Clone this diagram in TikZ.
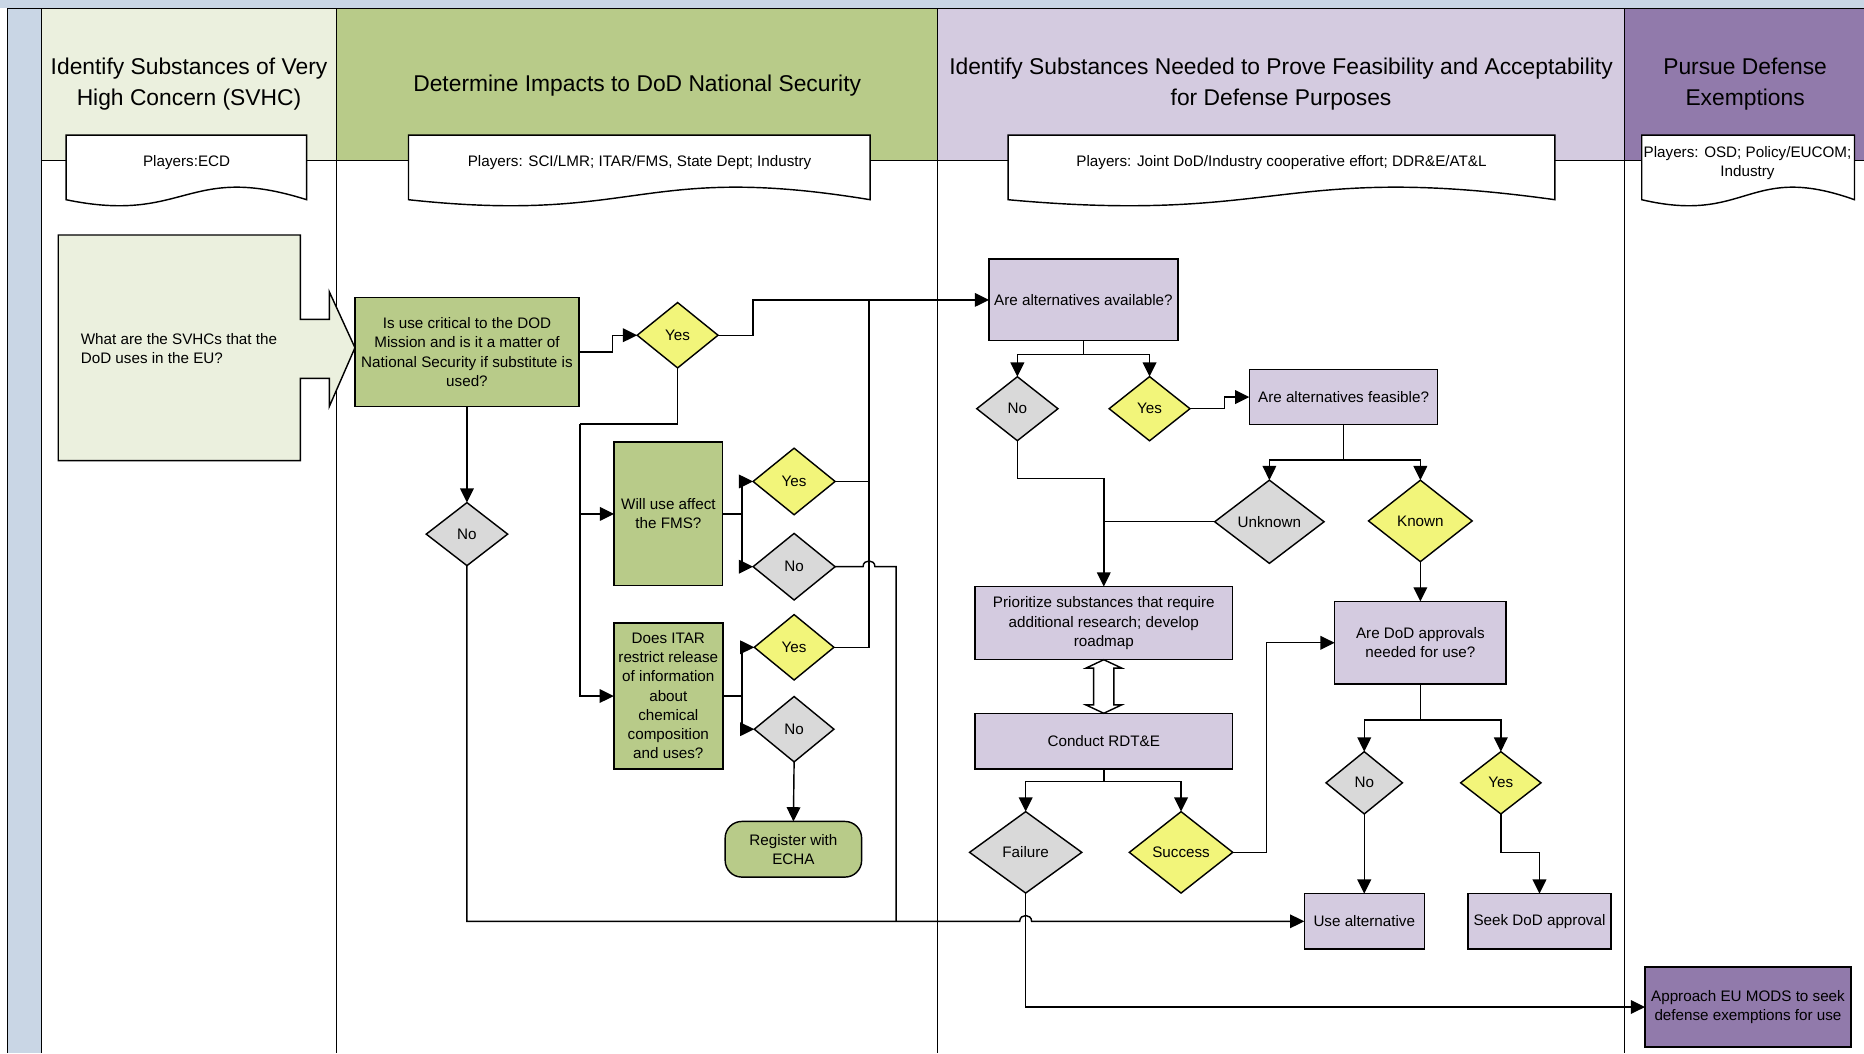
\documentclass[tikz,border=0pt]{standalone}
\usepackage{fontspec}
\setmainfont{Liberation Sans}
\usetikzlibrary{arrows.meta,shapes.geometric,calc}

\definecolor{bandblue}{RGB}{201,214,229}
\definecolor{laneA}{RGB}{235,240,222}
\definecolor{laneB}{RGB}{184,203,137}
\definecolor{laneC}{RGB}{212,203,224}
\definecolor{laneD}{RGB}{145,122,171}
\definecolor{yelfill}{RGB}{242,245,122}
\definecolor{grayfill}{RGB}{217,217,217}

% wavy-bottomed document shape for the "Players" notes
\newcommand{\docshape}[2]{%
  \pgfmathsetmacro{\docmid}{0.5*(#1+#2)}%
  \filldraw[fill=white, line width=1.2pt] (#1,113.6) -- (#2,113.6) -- (#2,168)
    .. controls (\docmid,136) and (\docmid,189) .. (#1,168) -- cycle;}

\begin{document}
\begin{tikzpicture}[x=1pt,y=-1pt,line width=1.2pt,
  every node/.style={inner sep=0pt,outer sep=0pt},
  txt/.style={font=\fontsize{12.8}{16.2}\selectfont,align=center},
  headtxt/.style={font=\fontsize{19.2}{26}\selectfont,align=center},
  box/.style={draw,rectangle,txt},
  greenbox/.style={box,fill=laneB},
  lavbox/.style={box,fill=laneC},
  purbox/.style={box,fill=laneD},
  dia/.style={draw,diamond,aspect=1.25,txt},
  ydia/.style={dia,fill=yelfill},
  gdia/.style={dia,fill=grayfill},
  arr/.style={-{Triangle[length=12pt,width=11.5pt]}},
  laneline/.style={line width=1pt}]

\useasboundingbox (0,0) rectangle (1568,886);

% ---- frame, band and swim-lane headers
\fill[bandblue] (0,0) rectangle (1568,7);
\fill[bandblue] (6.2,7) rectangle (35,886);
\fill[laneA] (35,7) rectangle (283,135);
\fill[laneB] (283,7) rectangle (788.6,135);
\fill[laneC] (788.6,7) rectangle (1366.6,135);
\fill[laneD] (1366.6,7) rectangle (1568,135);
\draw[laneline] (6.2,7) -- (1568,7);
\draw[laneline] (35,135) -- (1568,135);
\foreach \lx in {6.2,35,283,788.6,1366.6}
  \draw[laneline] (\lx,7) -- (\lx,886);

\node[headtxt] (h1) at (159,71) {Identify Substances of Very\\High Concern (SVHC)};
\node[headtxt] (h2) at (536,72) {Determine Impacts to DoD National Security};
\node[headtxt] (h3) at (1077.6,71) {Identify Substances Needed to Prove Feasibility and Acceptability\\for Defense Purposes};
\node[headtxt] (h4) at (1468,71) {Pursue Defense\\Exemptions};

% ---- players notes
\docshape{55.6}{258}
\docshape{343.6}{732}
\docshape{848}{1308}
\docshape{1381}{1560}
\node[txt] (p1) at (157,137) {Players:ECD};
\node[txt] (p2) at (538,137) {Players: SCI/LMR; ITAR/FMS, State Dept; Industry};
\node[txt] (p3) at (1078,137) {Players: Joint DoD/Industry cooperative effort; DDR\&E/AT\&L};
\node[txt] (p4) at (1470,137) {Players: OSD; Policy/EUCOM;\\Industry};

% ---- lane 1
\filldraw[fill=laneA] (49,197.7) -- (252.6,197.7) -- (252.6,268.6) -- (277,268.6)
  -- (277,245.4) -- (298.6,292.5) -- (277,342) -- (277,318.3) -- (252.6,318.3)
  -- (252.6,387.5) -- (49,387.5) -- cycle;
\node[txt,align=left,anchor=west] (svhc) at (68,293) {What are the SVHCs that the\\DoD uses in the EU?};

% ---- lane 2
\node[greenbox,minimum width=188.4pt,minimum height=91.6pt] (crit) at (392.8,296.2)
  {Is use critical to the DOD\\Mission and is it a matter of\\National Security if substitute is\\used?};
\node[ydia,minimum width=68pt,minimum height=55pt] (yes1) at (570,282) {Yes};
\node[gdia,minimum width=68.5pt,minimum height=53pt] (no1) at (392.8,449.3) {No};
\node[greenbox,minimum width=91.4pt,minimum height=120.7pt] (fms) at (562.3,432.3) {Will use affect\\the FMS?};
\node[ydia,minimum width=69pt,minimum height=56pt] (yes2) at (668,405) {Yes};
\node[gdia,minimum width=69pt,minimum height=56pt] (no2) at (668,476.7) {No};
\node[greenbox,minimum width=91.7pt,minimum height=123pt] (itar) at (562.2,585.5)
  {Does ITAR\\restrict release\\of information\\about\\chemical\\composition\\and uses?};
\node[ydia,minimum width=67pt,minimum height=55pt] (yes4) at (668,544.5) {Yes};
\node[gdia,minimum width=67pt,minimum height=55pt] (no4) at (668,613.4) {No};
\node[box,fill=laneB,rounded corners=14pt,minimum width=114.8pt,minimum height=46.8pt] (echa) at (667.4,714.4) {Register with\\ECHA};

% ---- lane 3
\node[lavbox,minimum width=158.8pt,minimum height=68.6pt] (avail) at (911.4,252.3) {Are alternatives available?};
\node[gdia,minimum width=68.3pt,minimum height=53.8pt] (no3) at (855.8,343.8) {No};
\node[ydia,minimum width=68pt,minimum height=54pt] (yes3) at (967,343.8) {Yes};
\node[lavbox,minimum width=158.5pt,minimum height=46pt] (feas) at (1130.2,334) {Are alternatives feasible?};
\node[gdia,minimum width=92pt,minimum height=70pt] (unk) at (1067.8,438.9) {Unknown};
\node[ydia,minimum width=87.2pt,minimum height=68.5pt] (known) at (1194.8,438.2) {Known};
\node[lavbox,minimum width=217pt,minimum height=61.5pt] (prio) at (928.5,524.2)
  {Prioritize substances that require\\additional research; develop\\roadmap};
\node[lavbox,minimum width=217pt,minimum height=47pt] (rdte) at (928.5,623.5) {Conduct RDT\&E};
\node[gdia,minimum width=94.4pt,minimum height=68.5pt] (fail) at (862.8,717) {Failure};
\node[ydia,minimum width=87pt,minimum height=68.5pt] (succ) at (993.5,717) {Success};
\node[lavbox,minimum width=144.2pt,minimum height=69.4pt] (dodq) at (1194.8,540.7) {Are DoD approvals\\needed for use?};
\node[gdia,minimum width=64.3pt,minimum height=52.4pt] (no5) at (1147.6,658.5) {No};
\node[ydia,minimum width=67.6pt,minimum height=52.4pt] (yes5) at (1262.5,658.5) {Yes};
\node[lavbox,minimum width=100.9pt,minimum height=46.4pt] (usealt) at (1147.6,775) {Use alternative};
\node[lavbox,minimum width=120pt,minimum height=46.4pt] (seek) at (1295,775) {Seek DoD approval};

% ---- lane 4
\node[purbox,minimum width=173.2pt,minimum height=67pt] (eumods) at (1470.4,847.1)
  {Approach EU MODS to seek\\defense exemptions for use};

% ---- junction points
\coordinate (jA) at (488,356.7);
\coordinate (jF) at (624,432.3);
\coordinate (jI) at (624,585.5);
\coordinate (jT) at (731,252.3);
\coordinate (jB) at (753.8,775);
\coordinate (jAv) at (911.4,298);
\coordinate (jFe) at (1130.2,387);
\coordinate (jN) at (928.5,402.4);
\coordinate (jR) at (928.5,657.6);
\coordinate (jD) at (1194.8,605.7);

% ---- connectors, lane 2
\draw[arr] (crit.east) -- ++(28,0) |- (yes1.west);
\draw[arr] (yes1.east) -- ++(29.5,0) |- (avail.west);
\draw (yes1.south) |- (jA);
\draw[arr] (jA) |- (fms.west);
\draw[arr] (jA) |- (itar.west);
\draw[arr] (crit.south) -- (no1.north);
\draw (fms.east) -- (jF);
\draw[arr] (jF) |- (yes2.west);
\draw[arr] (jF) |- (no2.west);
\draw (itar.east) -- (jI);
\draw[arr] (jI) |- (yes4.west);
\draw[arr] (jI) |- (no4.west);
\draw (yes4.east) -| (jT);
\draw (yes2.east) -- (yes2.east -| jT);
\coordinate (nL) at ($(no2.east -| jT)+(-5,0)$);
\coordinate (nR) at ($(no2.east -| jT)+(5,0)$);
\draw (no2.east) -- (nL) .. controls ($(nL)+(0,-6.5)$) and ($(nR)+(0,-6.5)$) .. (nR)
  -- (no2.east -| jB) -- (jB);
\draw[arr] (no4.south) -- (echa.north);
\coordinate (bL) at ($(fail.south |- usealt.west)+(-5,0)$);
\coordinate (bR) at ($(fail.south |- usealt.west)+(5,0)$);
\draw[arr] (no1.south) |- (bL) .. controls ($(bL)+(0,-6.5)$) and ($(bR)+(0,-6.5)$) .. (bR)
  -- (usealt.west);

% ---- connectors, lane 3
\draw (avail.south) -- (jAv);
\draw[arr] (jAv) -| (no3.north);
\draw[arr] (jAv) -| (yes3.north);
\draw[arr] (yes3.east) -- ++(29,0) |- (feas.west);
\draw (feas.south) -- (jFe);
\draw[arr] (jFe) -| (unk.north);
\draw[arr] (jFe) -| (known.north);
\draw (no3.south) |- (jN);
\draw[arr] (jN) -- (prio.north);
\draw (unk.west) -- (unk.west -| prio.north);
\filldraw[fill=white] (prio.south) -- ++(15,7) -- ++(-6.5,0) -- ++(0,31) -- ++(6.5,0)
  -- (rdte.north) -- ++(-15,-7) -- ++(6.5,0) -- ++(0,-31) -- ++(-6.5,0) -- cycle;
\draw (rdte.south) -- (jR);
\draw[arr] (jR) -| (fail.north);
\draw[arr] (jR) -| (succ.north);
\draw[arr] (succ.east) -- ++(28.4,0) |- (dodq.west);
\draw[arr] (known.south) -- (dodq.north);
\draw (dodq.south) -- (jD);
\draw[arr] (jD) -| (no5.north);
\draw[arr] (jD) -| (yes5.north);
\draw[arr] (no5.south) -- (usealt.north);
\draw[arr] (yes5.south) -- ++(0,32.6) -| (seek.north);
\draw[arr] (fail.south) |- (eumods.west);

\end{tikzpicture}
\end{document}
